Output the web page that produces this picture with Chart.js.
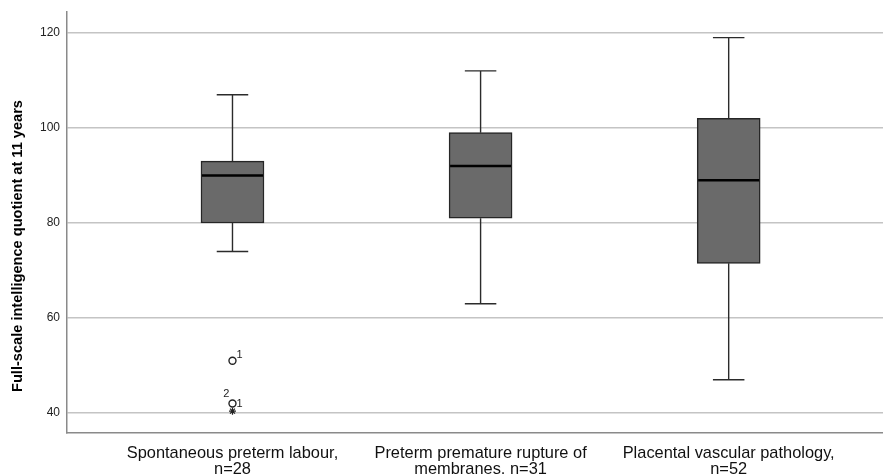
<!DOCTYPE html>
<html>
<head>
<meta charset="utf-8">
<script src="https://cdn.jsdelivr.net/npm/chart.js@4.4.1/dist/chart.umd.min.js"></script>
<style>
  html, body { margin: 0; padding: 0; background: #fff; overflow: hidden; }
  canvas { display: block; }
</style>
</head>
<body>
<canvas id="chart" width="883" height="474"></canvas>
<script>
// ── DATA ─────────────────────────────────────────────────────
const categories = [
  ["Spontaneous preterm labour,", "n=28"],
  ["Preterm premature rupture of", "membranes, n=31"],
  ["Placental vascular pathology,", "n=52"],
];
const whiskerLow  = [74, 63, 47];
const quartile1   = [80, 81, 71.5];
const medians     = [90, 92, 89];
const quartile3   = [93, 99, 102];
const whiskerHigh = [107, 112, 119];

// outliers (circles) and extremes (asterisks), by group index
const outlierGroup  = [0, 0];
const outlierValues = [51, 42];
const outlierLeftLabels  = ["", "2"];
const outlierRightLabels = ["1", "1"];
const extremeGroup  = [0];
const extremeValues = [40.4];

const yTicks = [40, 60, 80, 100, 120];
const yTitle = "Full-scale intelligence quotient at 11 years";

// ── HELPERS ──────────────────────────────────────────────────
const FONT = "'Liberation Sans', Arial, sans-serif";
const groupX = (i) => i + 1;

// whiskers, caps and median lines, drawn from the scales
const boxPlotLines = {
  id: "boxPlotLines",
  afterDatasetsDraw(chart) {
    const { ctx, scales: { x, y } } = chart;
    const boxMeta = chart.getDatasetMeta(0);
    ctx.save();
    categories.forEach((_, i) => {
      const px = x.getPixelForValue(groupX(i));
      const bw = boxMeta.data[i].width;
      const cap = bw / 2;
      ctx.strokeStyle = "#2b2b2b";
      ctx.lineWidth = 1.4;
      ctx.beginPath();
      ctx.moveTo(px, y.getPixelForValue(whiskerHigh[i]));
      ctx.lineTo(px, y.getPixelForValue(quartile3[i]));
      ctx.moveTo(px, y.getPixelForValue(quartile1[i]));
      ctx.lineTo(px, y.getPixelForValue(whiskerLow[i]));
      ctx.moveTo(px - cap / 2, y.getPixelForValue(whiskerHigh[i]));
      ctx.lineTo(px + cap / 2, y.getPixelForValue(whiskerHigh[i]));
      ctx.moveTo(px - cap / 2, y.getPixelForValue(whiskerLow[i]));
      ctx.lineTo(px + cap / 2, y.getPixelForValue(whiskerLow[i]));
      ctx.stroke();

      ctx.strokeStyle = "#000";
      ctx.lineWidth = 2.5;
      ctx.beginPath();
      ctx.moveTo(px - bw / 2 + 1, y.getPixelForValue(medians[i]));
      ctx.lineTo(px + bw / 2 - 1, y.getPixelForValue(medians[i]));
      ctx.stroke();
    });

    // case labels next to outliers
    ctx.fillStyle = "#222";
    ctx.font = "11px " + FONT;
    ctx.textBaseline = "middle";
    outlierValues.forEach((v, k) => {
      const px = x.getPixelForValue(groupX(outlierGroup[k]));
      const py = y.getPixelForValue(v);
      if (outlierRightLabels[k]) {
        ctx.textAlign = "left";
        const up = outlierLeftLabels[k] ? 0 : -6;
        ctx.fillText(outlierRightLabels[k], px + 4, py + up);
      }
      if (outlierLeftLabels[k]) {
        ctx.textAlign = "right";
        ctx.fillText(outlierLeftLabels[k], px - 3, py - 10);
      }
    });

    // y axis title
    ctx.fillStyle = "#000";
    ctx.font = "bold 14.6px " + FONT;
    ctx.textAlign = "center";
    ctx.translate(18, 246);
    ctx.rotate(-Math.PI / 2);
    ctx.fillText(yTitle, 0, 0);
    ctx.restore();
  },
};

// ── CHART ────────────────────────────────────────────────────
new Chart(document.getElementById("chart"), {
  type: "bar",
  data: {
    datasets: [
      {
        type: "bar",
        data: categories.map((_, i) => ({ x: groupX(i), y: [quartile1[i], quartile3[i]] })),
        backgroundColor: "#6a6a6a",
        borderColor: "#262626",
        borderWidth: 1.5,
        borderSkipped: false,
        barThickness: 63,
        order: 2,
      },
      {
        type: "scatter",
        data: outlierValues.map((v, k) => ({ x: groupX(outlierGroup[k]), y: v })),
        pointStyle: "circle",
        pointRadius: 3.5,
        backgroundColor: "#fff",
        borderColor: "#222",
        borderWidth: 1.4,
        order: 1,
      },
      {
        type: "scatter",
        data: extremeValues.map((v, k) => ({ x: groupX(extremeGroup[k]), y: v })),
        pointStyle: "star",
        pointRadius: 3.5,
        borderColor: "#222",
        borderWidth: 1.2,
        order: 1,
      },
    ],
  },
  options: {
    responsive: false,
    animation: false,
    layout: { autoPadding: false, padding: { top: 12, right: 0, left: 0, bottom: 0 } },
    plugins: { legend: { display: false }, tooltip: { enabled: false } },
    scales: {
      x: {
        type: "linear",
        min: 0.333,
        max: 3.622,
        offset: false,
        afterBuildTicks: (s) => { s.ticks = categories.map((_, i) => ({ value: groupX(i) })); },
        afterFit: (s) => { s.height = 41; s.paddingRight = 0; s.paddingLeft = 0; },
        grid: { display: false, drawTicks: false },
        border: { display: true, color: "#8a8a8a", width: 1.5 },
        ticks: {
          color: "#111",
          font: { family: FONT, size: 16.4, lineHeight: 1.0 },
          padding: 12,
          maxRotation: 0,
          autoSkip: false,
          callback: (v) => categories[v - 1] || "",
        },
      },
      y: {
        min: 35.8,
        max: 124.4,
        afterBuildTicks: (s) => { s.ticks = yTicks.map((v) => ({ value: v })); },
        afterFit: (s) => { s.width = 67; s.paddingTop = 0; s.paddingBottom = 0; },
        grid: { color: "#c4c4c4", lineWidth: 1.5, drawTicks: false },
        border: { display: true, color: "#8a8a8a", width: 1.5 },
        ticks: {
          color: "#222",
          font: { family: FONT, size: 12 },
          padding: 7,
        },
      },
    },
  },
  plugins: [boxPlotLines],
});
</script>
</body>
</html>
